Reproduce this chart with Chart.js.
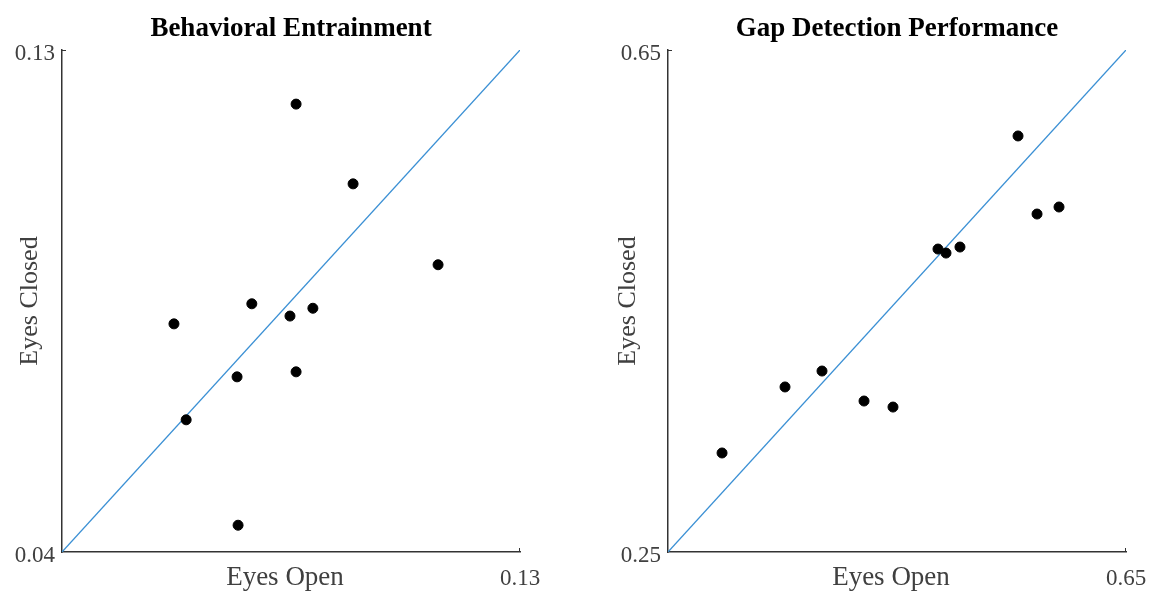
<!DOCTYPE html>
<html>
<head>
<meta charset="utf-8">
<script src="https://cdn.jsdelivr.net/npm/chart.js@4.4.1/dist/chart.umd.min.js"></script>
<style>
  html, body { margin: 0; padding: 0; background: #fff; }
  .panel { position: absolute; top: 0; width: 575px; height: 601px; }
  #leftPanel { left: 0; }
  #rightPanel { left: 575px; }
</style>
</head>
<body>
<div class="panel" id="leftPanel"><canvas id="entrainChart"></canvas></div>
<div class="panel" id="rightPanel"><canvas id="gapChart"></canvas></div>
<script>
//Behavioral entrainment (eyes open vs eyes closed)
const entrainOpen = [0.086, 0.0972, 0.1139, 0.0773, 0.062, 0.0848, 0.0893, 0.0744, 0.086, 0.0644, 0.0746];
const entrainClosed = [0.1203, 0.106, 0.0915, 0.0845, 0.0809, 0.0823, 0.0837, 0.0714, 0.0723, 0.0637, 0.0448];
const entrainRange = [0.04, 0.13];

//Gap detection performance
const gapOpen = [0.5557, 0.5723, 0.5915, 0.4858, 0.4928, 0.505, 0.3845, 0.3522, 0.4212, 0.4465, 0.2972];
const gapClosed = [0.5815, 0.5193, 0.5249, 0.4914, 0.4882, 0.493, 0.3942, 0.3815, 0.3703, 0.3655, 0.3289];
const gapRange = [0.25, 0.65];

const titleFont = "'Liberation Serif', 'Times New Roman', serif";
const axisColor = "#333333";
const textColor = "#404040";

//Draws title, x-axis label and the small inward end ticks
const decorPlugin = {
    id: "decor",
    afterDraw(chart, args, opts) {
        const ctx = chart.ctx;
        const area = chart.chartArea;
        const xs = chart.scales.x;
        const ys = chart.scales.y;
        ctx.save();

        //Title
        ctx.fillStyle = "#000";
        ctx.font = "bold 27px " + titleFont;
        ctx.textAlign = "center";
        ctx.textBaseline = "middle";
        ctx.fillText(opts.title, (area.left + area.right) / 2, 29);

        //X label
        ctx.fillStyle = textColor;
        ctx.font = "27px " + titleFont;
        ctx.fillText(opts.xLabel, (area.left + area.right) / 2 - 6, 578);

        //Inward end ticks
        ctx.strokeStyle = axisColor;
        ctx.lineWidth = 1;
        ctx.beginPath();
        const yTop = ys.getPixelForValue(ys.max);
        ctx.moveTo(area.left, yTop + 0.5);
        ctx.lineTo(area.left + 4, yTop + 0.5);
        const xRight = xs.getPixelForValue(xs.max);
        ctx.moveTo(xRight - 0.5, area.bottom);
        ctx.lineTo(xRight - 0.5, area.bottom - 4);
        ctx.stroke();
        ctx.restore();
    }
};

function makeChart(id, openVals, closedVals, range, title, yWidth, yTitlePad, rightPad) {

    const ctx = document.querySelector(id);

    const points = openVals.map((v, i) => ({ x: v, y: closedVals[i] }));
    const unity = range.map(v => ({ x: v, y: v }));

    return new Chart(ctx, {

        type: "scatter",

        data: {

            datasets: [
                {
                    type: "line",
                    data: unity,
                    borderColor: "#3b90d4",
                    borderWidth: 1.3,
                    pointRadius: 0,
                    fill: false,
                    order: 2
                },
                {
                    data: points,
                    backgroundColor: "#000",
                    borderColor: "#000",
                    pointRadius: 5,
                    pointHoverRadius: 5,
                    order: 1
                }
            ]

        },

        options: {

            responsive: true,
            maintainAspectRatio: false,
            animation: false,

            layout: {
                padding: { left: 0, right: rightPad, top: 50, bottom: 0 }
            },

            plugins: {
                legend: { display: false },
                tooltip: { enabled: false },
                decor: { title: title, xLabel: "Eyes Open" }
            },

            scales: {

                x: {
                    type: "linear",
                    min: range[0],
                    max: range[1],
                    grid: { display: false, drawTicks: false },
                    border: { display: true, color: axisColor, width: 1.5 },
                    afterBuildTicks: scale => {
                        scale.ticks = [{ value: range[1] }];
                    },
                    afterFit: scale => {
                        scale.height = 49;
                        scale.paddingRight = 0;
                    },
                    ticks: {
                        color: textColor,
                        padding: 13,
                        maxRotation: 0,
                        font: { family: titleFont, size: 23 },
                        callback: v => v.toFixed(2)
                    }
                },

                y: {
                    type: "linear",
                    min: range[0],
                    max: range[1],
                    grid: { display: false, drawTicks: false },
                    border: { display: true, color: axisColor, width: 1.5 },
                    afterBuildTicks: scale => {
                        scale.ticks = [{ value: range[0] }, { value: range[1] }];
                    },
                    afterFit: scale => {
                        scale.width = yWidth;
                    },
                    title: {
                        display: true,
                        text: "Eyes Closed",
                        color: textColor,
                        padding: { top: yTitlePad, bottom: 0 },
                        font: { family: titleFont, size: 26 }
                    },
                    ticks: {
                        color: textColor,
                        padding: 7,
                        labelOffset: 4,
                        font: { family: titleFont, size: 23 },
                        callback: v => v.toFixed(2)
                    }
                }

            }

        },

        plugins: [decorPlugin]

    });

}

makeChart("#entrainChart", entrainOpen, entrainClosed, entrainRange, "Behavioral Entrainment", 62, 15, 55);
makeChart("#gapChart", gapOpen, gapClosed, gapRange, "Gap Detection Performance", 93, 38, 24);
</script>
</body>
</html>
